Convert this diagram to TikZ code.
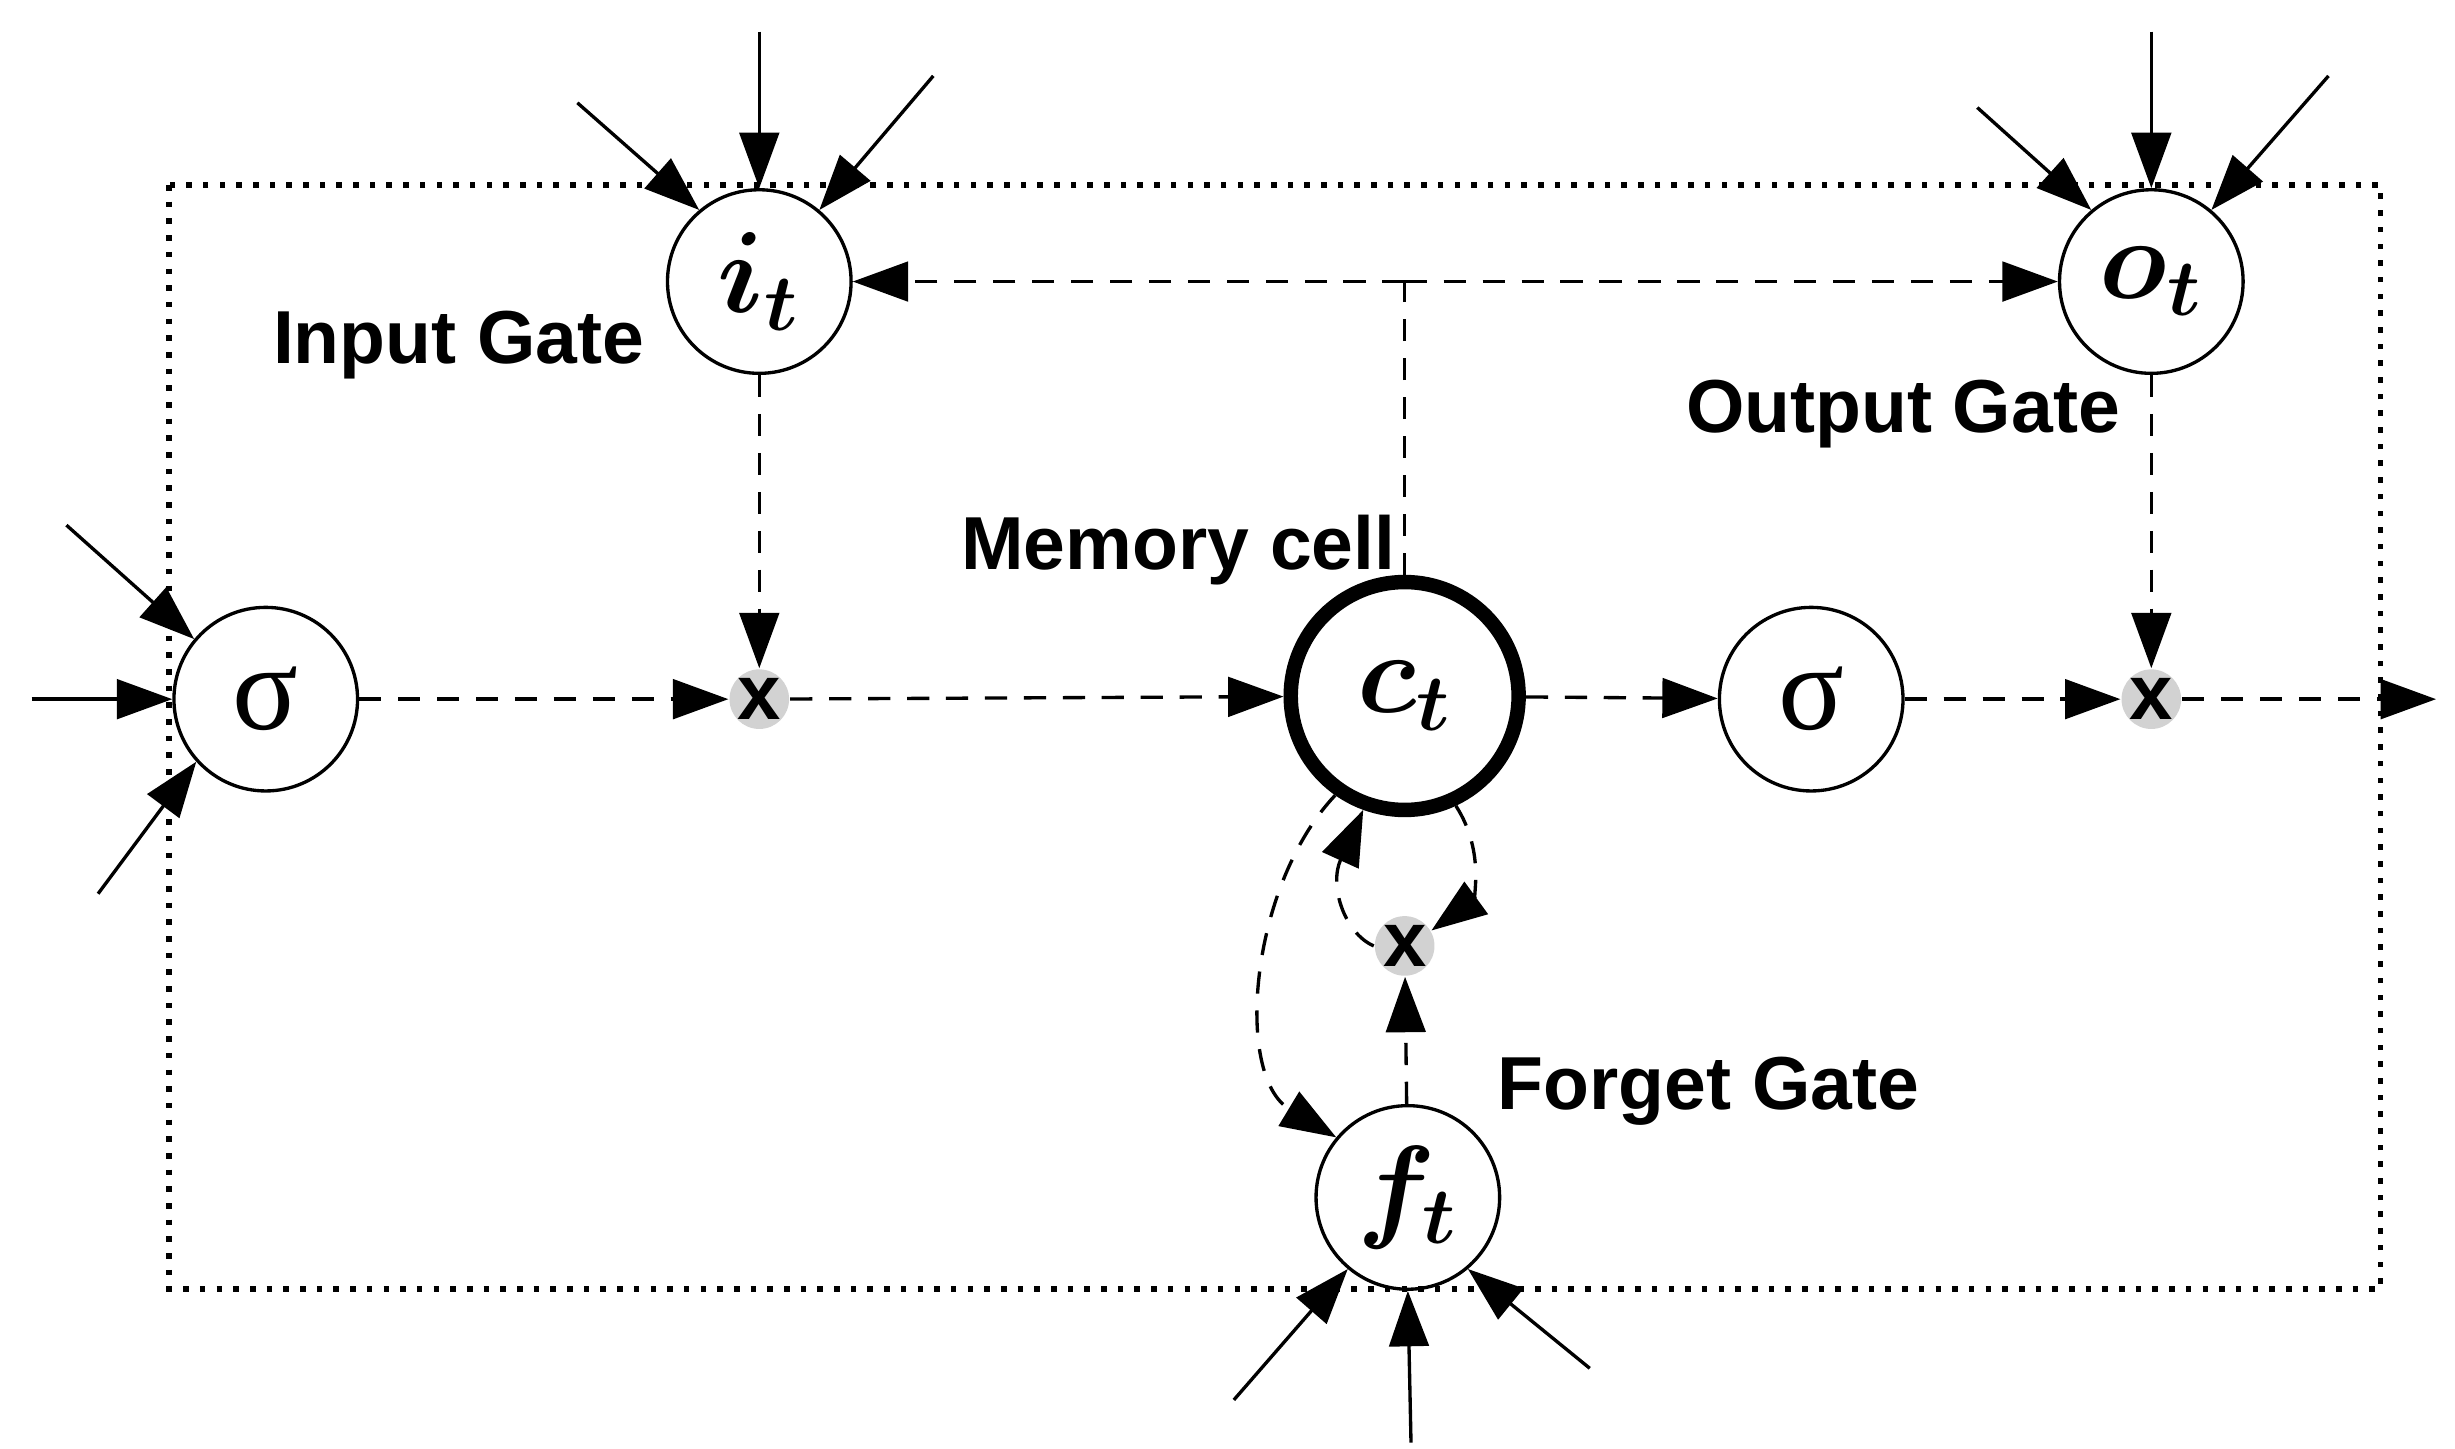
\documentclass[tikz,border=0pt]{standalone}
\usepackage{amsmath,bm}
\usepackage{fontspec}
\newfontfamily\lab{Liberation Sans}
\newfontfamily\sig{Liberation Serif}
\usetikzlibrary{arrows.meta}
\begin{document}
\begin{tikzpicture}[x=0.01cm,y=-0.01cm,
  gate/.style={circle,draw,line width=0.6pt,minimum size=1.16cm,inner sep=0pt,font=\fontsize{22}{24}\selectfont},
  mul/.style={circle,fill=gray!35,minimum size=0.28cm,inner sep=0pt,font=\lab\bfseries\fontsize{14}{14}\selectfont},
  lbl/.style={font=\lab\bfseries\fontsize{13.5}{16}\selectfont},
  arr/.style={line width=0.6pt,-{Triangle[length=0.35cm,width=0.25cm]}},
  darr/.style={arr,dash pattern=on 4pt off 3pt}]
\useasboundingbox (0,0) rectangle (1552,916);
\draw[line width=1pt,dotted] (107,117) rectangle (1505,815);
\node[gate] (it) at (480,178) {$\bm{i_t}$};
\node[gate] (ot) at (1360,178) {$\bm{o_t}$};
\node[gate] (s1) at (168,442) {\sig σ};
\node[gate] (s2) at (1145,442) {\sig σ};
\node[gate,line width=2.6pt,minimum size=1.44cm] (ct) at (888,440) {$\bm{c_t}$};
\node[gate] (ft) at (890,757) {$\bm{f_t}$};
\node[mul] (m1) at (480,442) {x};
\node[mul] (m2) at (1360,442) {x};
\node[mul] (m3) at (888,598) {x};
\coordinate (out) at (1540,442);
\coordinate (top) at (888,178);
\node[lbl] (l1) at (290,218) {Input Gate};
\node[lbl] (l2) at (1203,262) {Output Gate};
\node[lbl] (l3) at (745,348) {Memory cell};
\node[lbl] (l4) at (1080,690) {Forget Gate};
% external inputs
\coordinate (a1) at (480,20); \coordinate (a2) at (365,65); \coordinate (a3) at (590,48);
\draw[arr] (a1) -- (it.north); \draw[arr] (a2) -- (it.130); \draw[arr] (a3) -- (it.50);
\coordinate (b1) at (1360,20); \coordinate (b2) at (1250,68); \coordinate (b3) at (1472,48);
\draw[arr] (b1) -- (ot.north); \draw[arr] (b2) -- (ot.130); \draw[arr] (b3) -- (ot.50);
\coordinate (c1) at (20,442); \coordinate (c2) at (42,332); \coordinate (c3) at (62,565);
\draw[arr] (c1) -- (s1.west); \draw[arr] (c2) -- (s1.140); \draw[arr] (c3) -- (s1.222);
\coordinate (d1) at (892,912); \coordinate (d2) at (780,885); \coordinate (d3) at (1005,865);
\draw[arr] (d1) -- (ft.south); \draw[arr] (d2) -- (ft.230); \draw[arr] (d3) -- (ft.310);
% internal flow
\draw[darr] (s1) -- (m1);
\draw[darr] (m1) -- (ct);
\draw[darr] (ct) -- (s2);
\draw[darr] (s2) -- (m2);
\draw[darr] (m2) -- (out);
\draw[darr] (it) -- (m1);
\draw[darr] (ot) -- (m2);
\draw[line width=0.6pt,dash pattern=on 4pt off 3pt] (ct.north) -- (top);
\draw[darr] (top) -- (it.east);
\draw[darr] (top) -- (ot.west);
\draw[darr] (ft) -- (m3);
\draw[darr] (ct.235) .. controls (790,560) and (780,680) .. (ft.140);
\draw[darr] (m3.west) .. controls (850,590) and (840,560) .. (ct.250);
\draw[darr] (ct.295) .. controls (940,540) and (930,570) .. (m3.30);
\end{tikzpicture}
\end{document}
